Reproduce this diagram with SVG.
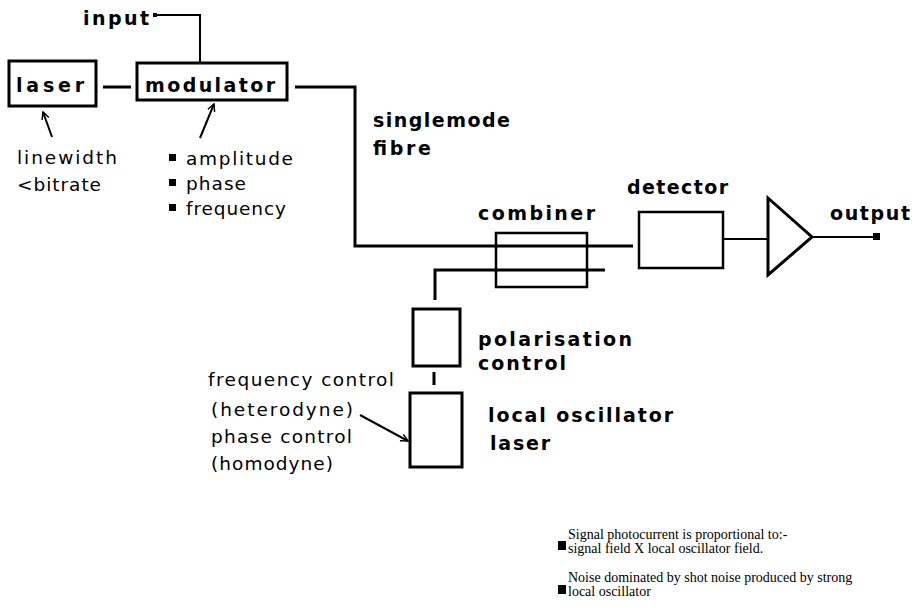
<svg xmlns="http://www.w3.org/2000/svg" width="914" height="615" viewBox="0 0 914 615">
  <style>
    .box { fill: #fff; stroke: #000; stroke-width: 3; }
    .thin { fill: #fff; stroke: #000; stroke-width: 2.5; }
    .wire { fill: none; stroke: #000; stroke-width: 3; }
    .wire2 { fill: none; stroke: #000; stroke-width: 2; }
    .lbl { font-family: "DejaVu Sans", "Liberation Sans", sans-serif; font-weight: bold; font-size: 19px; fill: #000; }
    .note { font-family: "DejaVu Sans", "Liberation Sans", sans-serif; font-size: 18.5px; fill: #000; }
    .serif { font-family: "Liberation Serif", "DejaVu Serif", serif; font-size: 14px; fill: #000; }
  </style>
  <defs>
    <marker id="open" viewBox="0 0 10 10" refX="9" refY="5" markerWidth="9" markerHeight="9" orient="auto" markerUnits="userSpaceOnUse">
      <path d="M1,1 L9,5 L1,9" fill="none" stroke="#000" stroke-width="1.6"/>
    </marker>
  </defs>

  <!-- connectors -->
  <g id="connectors">
    <line class="wire" x1="103" y1="87" x2="131" y2="87"/>
    <polyline class="wire2" points="156,15 200,15 200,63"/>
    <rect x="153" y="13" width="4" height="4" fill="#000"/>
    <polyline class="wire" points="295,87 355,87 355,246 633,246"/>
    <polyline class="wire" points="435,300 435,270 605,270"/>
    <line class="wire" x1="434" y1="372" x2="434" y2="385"/>
    <line class="wire2" x1="723" y1="239" x2="768" y2="239"/>
    <line class="wire2" x1="812" y1="237" x2="877" y2="237"/>
    <rect x="873" y="233" width="7" height="7" fill="#000"/>
    <line x1="52" y1="137" x2="43" y2="112" stroke="#000" stroke-width="2" marker-end="url(#open)"/>
    <line x1="200" y1="138" x2="214" y2="104" stroke="#000" stroke-width="2" marker-end="url(#open)"/>
    <line x1="360" y1="415" x2="408" y2="441" stroke="#000" stroke-width="2" marker-end="url(#open)"/>
  </g>

  <!-- laser -->
  <g id="laser">
    <rect class="box" x="9" y="61" width="87" height="45"/>
    <text class="lbl" x="16" y="92" textLength="68" lengthAdjust="spacing">laser</text>
  </g>

  <!-- modulator -->
  <g id="modulator">
    <rect class="box" x="137" y="63" width="150" height="37"/>
    <text class="lbl" x="145" y="92" textLength="130" lengthAdjust="spacing">modulator</text>
  </g>

  <!-- input label -->
  <g id="input">
    <text class="lbl" x="83" y="25" textLength="66" lengthAdjust="spacing">input</text>
  </g>

  <!-- laser notes -->
  <g id="laser-notes">
    <text class="note" x="17" y="164" textLength="100" lengthAdjust="spacing">linewidth</text>
    <text class="note" x="17" y="191" textLength="84" lengthAdjust="spacing">&lt;bitrate</text>
  </g>

  <!-- modulation formats -->
  <g id="modulation">
    <rect x="169" y="154" width="7" height="7" fill="#000"/>
    <text class="note" x="186" y="165" textLength="107" lengthAdjust="spacing">amplitude</text>
    <rect x="169" y="179" width="7" height="7" fill="#000"/>
    <text class="note" x="186" y="190" textLength="60" lengthAdjust="spacing">phase</text>
    <rect x="169" y="204" width="7" height="7" fill="#000"/>
    <text class="note" x="186" y="215" textLength="100" lengthAdjust="spacing">frequency</text>
  </g>

  <!-- fibre label -->
  <g id="fibre">
    <text class="lbl" x="373" y="127" textLength="137" lengthAdjust="spacing">singlemode</text>
    <text class="lbl" x="373" y="155" textLength="58" lengthAdjust="spacing">fibre</text>
  </g>

  <!-- combiner -->
  <g id="combiner">
    <text class="lbl" x="478" y="220" textLength="117" lengthAdjust="spacing">combiner</text>
    <rect x="496" y="233" width="91" height="54" fill="none" stroke="#000" stroke-width="2.5"/>
  </g>

  <!-- detector -->
  <g id="detector">
    <text class="lbl" x="627" y="194" textLength="101" lengthAdjust="spacing">detector</text>
    <rect class="thin" x="639" y="212" width="84" height="56"/>
  </g>

  <!-- amplifier -->
  <g id="amplifier">
    <polygon points="768,198 812,237 768,275" fill="#fff" stroke="#000" stroke-width="3" stroke-linejoin="miter"/>
  </g>

  <!-- output -->
  <g id="output">
    <text class="lbl" x="830" y="220" textLength="80" lengthAdjust="spacing">output</text>
  </g>

  <!-- polarisation control -->
  <g id="polarisation">
    <rect class="box" x="413" y="309" width="47" height="57"/>
    <text class="lbl" x="478" y="346" textLength="154" lengthAdjust="spacing">polarisation</text>
    <text class="lbl" x="478" y="370" textLength="88" lengthAdjust="spacing">control</text>
  </g>

  <!-- local oscillator -->
  <g id="local-oscillator">
    <rect class="box" x="410" y="393" width="52" height="74"/>
    <text class="lbl" x="488" y="422" textLength="185" lengthAdjust="spacing">local oscillator</text>
    <text class="lbl" x="490" y="450" textLength="60" lengthAdjust="spacing">laser</text>
  </g>

  <!-- control notes -->
  <g id="control-notes">
    <text class="note" x="208" y="386" textLength="186" lengthAdjust="spacing">frequency control</text>
    <text class="note" x="211" y="416" textLength="142" lengthAdjust="spacing">(heterodyne)</text>
    <text class="note" x="211" y="443" textLength="141" lengthAdjust="spacing">phase control</text>
    <text class="note" x="211" y="470" textLength="122" lengthAdjust="spacing">(homodyne)</text>
  </g>

  <!-- summary notes -->
  <g id="summary">
    <rect x="558" y="541" width="8" height="9" fill="#000"/>
    <text class="serif" x="568" y="539">Signal photocurrent is proportional to:-</text>
    <text class="serif" x="568" y="553">signal field X local oscillator field.</text>
    <rect x="558" y="585" width="8" height="9" fill="#000"/>
    <text class="serif" x="568" y="582">Noise dominated by shot noise produced by strong</text>
    <text class="serif" x="568" y="596">local oscillator</text>
  </g>
</svg>
